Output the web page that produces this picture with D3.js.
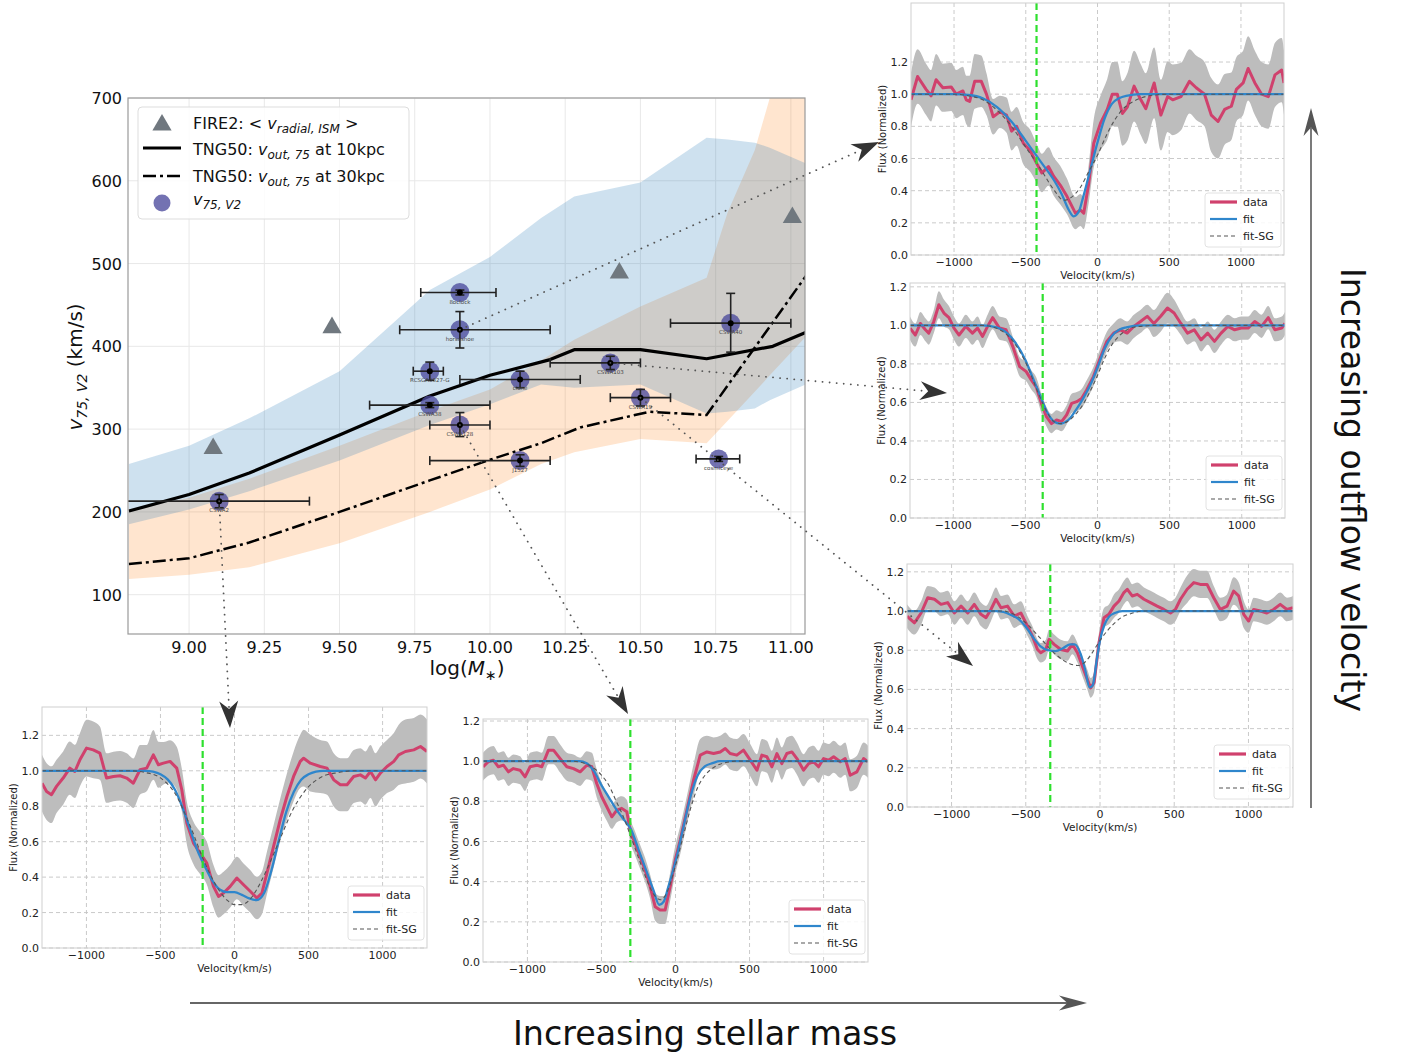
<!DOCTYPE html>
<html><head><meta charset="utf-8">
<script src="https://cdn.jsdelivr.net/npm/d3@7"></script>
<style>body{margin:0;background:#fff;} svg{display:block;font-family:"DejaVu Sans",sans-serif;}</style>
</head><body><svg id="c" width="1402" height="1057"></svg>
<script>
// ---------------- main plot data ----------------
const massTicks = [9.0, 9.25, 9.5, 9.75, 10.0, 10.25, 10.5, 10.75, 11.0];
const vTicks = [100, 200, 300, 400, 500, 600, 700];

const bandX      = [8.8, 9.0, 9.2, 9.5, 9.8, 10.0, 10.17, 10.28, 10.5, 10.72, 10.79, 10.88, 10.93, 11.05];
const blueUpper  = [258, 280, 313, 370, 468, 508, 555, 581, 598, 652, 650, 646, 640, 621];
const blueLower  = [185, 203, 225, 262, 305, 330, 354, 350, 354, 319, 321, 325, 335, 354];
const orangeUpper= [203, 217, 240, 280, 322, 348, 383, 408, 448, 483, 562, 637, 700, 790];
const orangeLower= [119, 124, 133, 162, 200, 227, 258, 272, 288, 283, 310, 345, 365, 412];

const tng10X = [8.8, 9.0, 9.2, 9.5, 9.8, 10.0, 10.2, 10.28, 10.5, 10.72, 10.94, 11.05];
const tng10Y = [201, 221, 247, 293, 340, 365, 384, 396, 396, 385, 400, 417];
const tng30X = [8.8, 9.0, 9.2, 9.5, 9.8, 10.0, 10.17, 10.3, 10.53, 10.72, 11.05];
const tng30Y = [137, 144, 163, 200, 238, 263, 283, 302, 321, 317, 485];

const fireX = [9.08, 9.475, 10.43, 11.005];
const fireY = [279, 425, 491, 558];

const galNames = ['CSWA2','8oclock','horseshoe','RCSGA0327-G','CSWA38','CSWA128','clone','J1527','CSWA103','CSWA19','CSWA40','cosmiceye'];
const galMass  = [9.1, 9.9, 9.9, 9.8, 9.8, 9.9, 10.1, 10.1, 10.4, 10.5, 10.8, 10.76];
const galV     = [213, 465, 420, 370, 329, 305, 360, 262, 380, 338, 428, 264];
const galMassLo= [8.7, 9.77, 9.7, 9.745, 9.6, 9.8, 9.9, 9.8, 10.2, 10.4, 10.6, 10.685];
const galMassHi= [9.4, 10.02, 10.2, 9.845, 10.0, 10.0, 10.3, 10.2, 10.5, 10.6, 11.0, 10.83];
const galVLo   = [205, 462, 398, 359, 326, 291, 350, 255, 372, 328, 393, 261];
const galVHi   = [221, 468, 442, 381, 332, 320, 370, 269, 388, 348, 464, 267];

// ---------------- spectra data ----------------
const panelVelTicks = [-1000, -500, 0, 500, 1000];
const panelFluxTicks = [0, 0.2, 0.4, 0.6, 0.8, 1.0, 1.2];

// horseshoe
const velA = [-1300,-1254,-1195,-1160,-1125,-1078,-1020,-985,-938,-915,-891,-856,-810,-774,-727,-681,-634,-599,-564,-517,-470,-424,-388,-342,-306,-260,-213,-154,-119,-96,-61,-26,21,68,103,138,173,208,255,302,337,395,442,489,524,582,641,688,746,793,840,886,933,968,1015,1050,1097,1144,1191,1237,1284,1300];
const fluxA = [0.965,1.11,1.03,0.99,1.09,1.04,1.045,1.0,1.02,0.965,0.955,1.08,1.08,1.0,0.86,0.89,0.87,0.77,0.80,0.695,0.65,0.57,0.51,0.55,0.49,0.435,0.365,0.26,0.28,0.26,0.445,0.695,0.82,0.905,1.0,1.0,0.88,0.92,1.05,0.965,0.91,1.07,0.87,0.985,0.965,0.985,1.08,1.04,1.0,0.87,0.83,0.905,0.925,1.03,1.07,1.16,1.07,1.0,0.985,1.12,1.15,1.07];
const errA = [0.17,0.17,0.16,0.16,0.16,0.15,0.15,0.15,0.15,0.15,0.16,0.17,0.16,0.13,0.11,0.10,0.11,0.12,0.12,0.13,0.13,0.12,0.12,0.12,0.12,0.12,0.11,0.10,0.10,0.10,0.12,0.15,0.17,0.19,0.20,0.20,0.20,0.21,0.22,0.22,0.22,0.22,0.22,0.22,0.22,0.21,0.20,0.20,0.20,0.23,0.23,0.22,0.21,0.20,0.20,0.20,0.20,0.20,0.20,0.20,0.20,0.20];
const fitVA = [-1300,-1000,-900,-800,-700,-600,-500,-400,-300,-250,-200,-166,-130,-100,-50,0,50,100,150,200,300,400,1300];
const fitFA = [1.0,1.0,0.995,0.975,0.92,0.83,0.71,0.585,0.46,0.38,0.28,0.24,0.27,0.36,0.53,0.70,0.85,0.94,0.975,0.99,1.0,1.0,1.0];
const sgVA = [-1300,-1000,-900,-800,-700,-600,-500,-400,-300,-236,-180,-120,-60,0,60,120,180,240,300,400,500,1300];
const sgFA = [1.0,1.0,0.99,0.965,0.9,0.8,0.67,0.54,0.40,0.34,0.36,0.42,0.52,0.62,0.74,0.84,0.91,0.95,0.975,0.995,1.0,1.0];

// CSWA103
const velB = [-1300,-1263,-1228,-1193,-1170,-1135,-1100,-1065,-1030,-995,-960,-913,-867,-832,-797,-762,-727,-680,-634,-587,-540,-494,-459,-424,-389,-354,-319,-284,-249,-214,-179,-144,-110,-75,-28,19,65,112,158,205,252,298,345,391,438,485,531,578,624,671,718,764,811,857,904,951,997,1044,1090,1137,1184,1230,1277,1300];
const fluxB = [0.986,0.95,1.01,0.977,0.96,1.02,1.107,1.064,1.04,0.986,0.95,0.995,0.96,0.986,0.943,0.995,1.04,0.986,0.977,0.89,0.786,0.76,0.717,0.68,0.595,0.526,0.49,0.509,0.50,0.535,0.595,0.604,0.62,0.665,0.734,0.83,0.917,0.96,0.977,0.96,0.995,1.02,1.047,1.01,1.047,1.09,1.064,1.01,0.96,0.977,0.925,0.96,0.917,0.96,0.995,0.977,0.986,0.986,1.02,0.995,1.04,0.977,0.986,1.01];
const errB = [0.06,0.06,0.06,0.06,0.06,0.06,0.07,0.07,0.06,0.06,0.06,0.06,0.06,0.06,0.06,0.06,0.06,0.06,0.06,0.05,0.05,0.05,0.05,0.05,0.05,0.05,0.05,0.05,0.05,0.05,0.05,0.05,0.05,0.05,0.05,0.05,0.05,0.05,0.06,0.06,0.06,0.06,0.06,0.07,0.08,0.08,0.07,0.06,0.06,0.06,0.06,0.06,0.06,0.06,0.06,0.06,0.06,0.06,0.06,0.06,0.06,0.06,0.06,0.06];
const fitVB = [-1300,-800,-700,-600,-500,-450,-400,-350,-300,-260,-200,-150,-100,-50,0,50,100,150,200,300,1300];
const fitFB = [1.0,1.0,0.99,0.94,0.82,0.73,0.64,0.55,0.50,0.49,0.51,0.56,0.62,0.69,0.78,0.88,0.945,0.977,0.99,1.0,1.0];
const sgVB = [-1300,-800,-700,-600,-500,-400,-350,-300,-250,-200,-150,-100,-50,0,50,100,150,200,250,300,400,1300];
const sgFB = [1.0,1.0,0.985,0.93,0.81,0.63,0.55,0.50,0.49,0.505,0.54,0.59,0.66,0.74,0.83,0.9,0.945,0.975,0.99,0.995,1.0,1.0];

// CSWA19
const velC = [-1300,-1250,-1205,-1160,-1115,-1071,-1026,-981,-936,-891,-847,-802,-768,-735,-701,-667,-623,-578,-533,-488,-455,-421,-399,-365,-343,-309,-264,-219,-186,-152,-119,-85,-63,-40,-7,27,60,94,128,161,184,217,251,296,340,385,430,475,508,542,587,632,676,721,766,811,856,900,934,968,1001,1035,1080,1124,1169,1214,1259,1300];
const fluxC = [0.974,0.94,0.99,1.068,1.06,1.034,1.043,0.99,1.025,0.99,1.034,0.983,0.966,1.008,1.06,1.017,1.025,0.974,0.99,0.923,0.872,0.804,0.787,0.804,0.855,0.83,0.804,0.796,0.83,0.787,0.719,0.65,0.608,0.634,0.838,0.966,0.983,1.025,1.051,1.094,1.111,1.077,1.085,1.06,1.043,1.025,1.008,0.99,1.008,1.06,1.111,1.145,1.136,1.136,1.068,1.008,1.025,1.102,1.077,0.983,0.949,1.008,1.0,0.99,1.008,1.034,1.008,1.017];
const errC = [0.06,0.06,0.06,0.06,0.06,0.06,0.06,0.06,0.06,0.06,0.06,0.06,0.06,0.06,0.06,0.06,0.06,0.06,0.06,0.05,0.05,0.05,0.05,0.05,0.05,0.05,0.05,0.05,0.05,0.05,0.05,0.05,0.05,0.05,0.05,0.05,0.05,0.06,0.06,0.06,0.06,0.06,0.06,0.06,0.06,0.06,0.06,0.06,0.06,0.06,0.07,0.07,0.07,0.07,0.06,0.06,0.06,0.07,0.07,0.07,0.06,0.06,0.06,0.06,0.06,0.06,0.06,0.06];
const fitVC = [-1300,-700,-650,-600,-550,-500,-450,-400,-350,-300,-250,-200,-170,-130,-100,-70,-50,-20,0,30,60,100,150,1300];
const fitFC = [1.0,1.0,0.995,0.98,0.96,0.92,0.865,0.82,0.80,0.795,0.81,0.83,0.83,0.78,0.70,0.61,0.62,0.76,0.85,0.93,0.97,0.99,1.0,1.0];
const sgVC = [-1300,-650,-600,-500,-400,-300,-200,-150,-100,-50,0,50,100,150,200,300,1300];
const sgFC = [1.0,1.0,0.99,0.94,0.86,0.78,0.73,0.722,0.74,0.79,0.85,0.90,0.94,0.97,0.985,1.0,1.0];

// CSWA2
const velD = [-1300,-1269,-1236,-1202,-1157,-1112,-1078,-1044,-999,-954,-909,-864,-818,-773,-728,-683,-638,-593,-548,-514,-480,-435,-390,-356,-322,-277,-232,-187,-142,-108,-74,-29,16,61,106,151,185,219,264,309,354,399,444,467,512,579,625,670,715,760,805,850,884,918,952,985,1030,1076,1109,1154,1211,1256,1300];
const fluxD = [0.93,0.883,0.865,0.912,0.959,1.015,0.996,1.062,1.128,1.118,1.1,0.959,0.968,0.972,0.959,0.93,1.006,1.015,1.09,1.034,1.043,1.053,1.015,0.893,0.705,0.592,0.536,0.479,0.348,0.291,0.31,0.348,0.395,0.357,0.32,0.282,0.31,0.423,0.573,0.724,0.855,0.968,1.053,1.071,1.043,1.024,1.015,0.949,0.921,0.921,0.968,0.977,0.959,0.996,0.949,0.987,1.024,1.053,1.09,1.109,1.118,1.137,1.109];
const errD = [0.16,0.16,0.16,0.15,0.15,0.15,0.15,0.15,0.16,0.16,0.15,0.14,0.14,0.14,0.14,0.14,0.14,0.13,0.14,0.13,0.12,0.12,0.12,0.12,0.12,0.12,0.12,0.12,0.12,0.12,0.12,0.12,0.12,0.12,0.12,0.12,0.12,0.12,0.12,0.12,0.13,0.14,0.15,0.16,0.16,0.15,0.15,0.15,0.15,0.15,0.15,0.15,0.15,0.15,0.15,0.15,0.15,0.16,0.17,0.18,0.18,0.18,0.18];
const fitVD = [-1300,-600,-550,-500,-450,-400,-350,-300,-250,-200,-150,-100,-50,0,50,100,150,200,250,300,350,400,450,500,550,600,1300];
const fitFD = [1.0,1.0,0.995,0.98,0.95,0.89,0.79,0.67,0.55,0.46,0.38,0.33,0.315,0.315,0.30,0.28,0.27,0.31,0.44,0.61,0.77,0.88,0.95,0.98,0.995,1.0,1.0];
const sgVD = [-1300,-700,-600,-500,-400,-300,-200,-100,-50,0,50,100,150,200,300,400,500,600,700,800,1300];
const sgFD = [1.0,1.0,0.99,0.96,0.87,0.69,0.48,0.32,0.27,0.245,0.245,0.27,0.33,0.41,0.60,0.79,0.91,0.97,0.99,1.0,1.0];

// CSWA128
const velE = [-1300,-1264,-1230,-1196,-1162,-1128,-1095,-1050,-1016,-982,-937,-903,-858,-824,-779,-734,-689,-644,-599,-565,-532,-498,-464,-430,-396,-363,-329,-306,-273,-239,-205,-171,-137,-104,-70,-36,-2,32,77,122,167,212,257,302,336,369,414,459,505,550,583,617,651,685,718,752,786,820,865,899,932,966,1000,1034,1068,1113,1146,1180,1225,1270,1300];
const fluxE = [0.972,0.997,1.005,0.972,0.98,0.947,0.963,0.955,0.922,0.972,0.98,0.972,1.055,1.055,1.013,0.972,0.963,0.947,0.98,0.972,0.889,0.823,0.773,0.723,0.756,0.765,0.748,0.657,0.59,0.524,0.458,0.375,0.275,0.259,0.259,0.375,0.507,0.607,0.756,0.905,1.03,1.046,1.038,1.046,1.063,1.038,1.03,1.055,1.005,0.955,1.03,1.022,0.972,1.038,0.988,1.038,1.046,1.013,0.955,0.988,0.997,0.972,1.013,1.005,1.022,0.997,1.013,0.93,0.947,1.013,0.997];
const errE = [0.07,0.07,0.07,0.07,0.07,0.07,0.07,0.07,0.07,0.07,0.07,0.07,0.07,0.07,0.07,0.07,0.07,0.07,0.07,0.07,0.07,0.07,0.07,0.06,0.06,0.06,0.06,0.06,0.06,0.06,0.06,0.06,0.07,0.07,0.07,0.07,0.07,0.07,0.07,0.08,0.08,0.08,0.08,0.08,0.08,0.08,0.08,0.08,0.08,0.08,0.08,0.08,0.08,0.08,0.08,0.08,0.08,0.08,0.08,0.08,0.08,0.08,0.08,0.08,0.08,0.08,0.08,0.08,0.08,0.08,0.08];
const fitVE = [-1300,-650,-600,-550,-500,-450,-400,-350,-300,-250,-200,-150,-110,-80,-50,0,50,100,150,200,250,300,1300];
const fitFE = [1.0,1.0,0.99,0.95,0.88,0.82,0.76,0.71,0.66,0.56,0.46,0.36,0.285,0.30,0.37,0.50,0.66,0.82,0.93,0.975,0.99,1.0,1.0];
const sgVE = [-1300,-700,-600,-500,-450,-400,-350,-300,-250,-200,-150,-100,-50,0,50,100,150,200,250,300,350,400,1300];
const sgFE = [1.0,1.0,0.985,0.93,0.88,0.80,0.72,0.62,0.52,0.42,0.34,0.31,0.36,0.48,0.62,0.76,0.87,0.93,0.965,0.985,0.995,1.0,1.0];

const panelGal = ['horseshoe','CSWA103','CSWA19','CSWA2','CSWA128'];
const greenVel = [-425, -380, -335, -215, -305];

// ---------------- drawing ----------------
const svg = d3.select('#c');
const defs = svg.append('defs');

const ML = 128, MT = 98, MR = 805, MB = 634;
const xM = d3.scaleLinear().domain([8.797, 11.047]).range([ML, MR]);
const yM = d3.scaleLinear().domain([52.5, 700]).range([MB, MT]);

defs.append('clipPath').attr('id','mainclip').append('rect')
  .attr('x',ML).attr('y',MT).attr('width',MR-ML).attr('height',MB-MT);

const gM = svg.append('g');
massTicks.forEach(t => gM.append('line').attr('x1',xM(t)).attr('x2',xM(t)).attr('y1',MT).attr('y2',MB)
  .attr('stroke','#e8e8e8').attr('stroke-width',1));
vTicks.forEach(t => gM.append('line').attr('y1',yM(t)).attr('y2',yM(t)).attr('x1',ML).attr('x2',MR)
  .attr('stroke','#e8e8e8').attr('stroke-width',1));

const gC = gM.append('g').attr('clip-path','url(#mainclip)');
const bandArea = d3.area().x(d=>xM(d[0])).y0(d=>yM(d[1])).y1(d=>yM(d[2]));
gC.append('path').attr('d', bandArea(bandX.map((x,i)=>[x, orangeLower[i], orangeUpper[i]])))
  .attr('fill','#ff7f0e').attr('fill-opacity',0.2);
gC.append('path').attr('d', bandArea(bandX.map((x,i)=>[x, blueLower[i], blueUpper[i]])))
  .attr('fill','#1f77b4').attr('fill-opacity',0.22);

const lineM = d3.line().x(d=>xM(d[0])).y(d=>yM(d[1]));
gC.append('path').attr('d', lineM(tng10X.map((x,i)=>[x,tng10Y[i]])))
  .attr('fill','none').attr('stroke','#000').attr('stroke-width',3.2).attr('stroke-linejoin','round');
gC.append('path').attr('d', lineM(tng30X.map((x,i)=>[x,tng30Y[i]])))
  .attr('fill','none').attr('stroke','#000').attr('stroke-width',2.5).attr('stroke-dasharray','13,4,3,4');

const tri = d3.symbol().type(d3.symbolTriangle).size(160);
fireX.forEach((x,i)=>{
  gC.append('path').attr('d',tri()).attr('transform',`translate(${xM(x)},${yM(fireY[i])+2})`).attr('fill','#70787f');
});

// galaxies
galNames.forEach((n,i)=>{
  const cx = xM(galMass[i]), cy = yM(galV[i]);
  gC.append('circle').attr('cx',cx).attr('cy',cy).attr('r',9.5).attr('fill','#4b4a9c').attr('fill-opacity',0.78);
});
galNames.forEach((n,i)=>{
  const cx = xM(galMass[i]), cy = yM(galV[i]);
  const s = '#222', w = 1.6, cap = 4.5;
  const x0 = xM(galMassLo[i]), x1 = xM(galMassHi[i]);
  gC.append('line').attr('x1',x0).attr('x2',x1).attr('y1',cy).attr('y2',cy).attr('stroke',s).attr('stroke-width',w);
  [x0,x1].forEach(xx=>gC.append('line').attr('x1',xx).attr('x2',xx).attr('y1',cy-cap).attr('y2',cy+cap).attr('stroke',s).attr('stroke-width',w));
  const y0 = yM(galVLo[i]), y1 = yM(galVHi[i]);
  gC.append('line').attr('x1',cx).attr('x2',cx).attr('y1',y0).attr('y2',y1).attr('stroke',s).attr('stroke-width',w);
  [y0,y1].forEach(yy=>gC.append('line').attr('x1',cx-cap).attr('x2',cx+cap).attr('y1',yy).attr('y2',yy).attr('stroke',s).attr('stroke-width',w));
  gC.append('circle').attr('cx',cx).attr('cy',cy).attr('r',3).attr('fill','#000');
  gC.append('text').attr('x',cx).attr('y',cy+11).attr('text-anchor','middle').attr('font-size',5.5)
    .attr('fill','#444').text(n);
});

// frame + tick labels
gM.append('rect').attr('x',ML).attr('y',MT).attr('width',MR-ML).attr('height',MB-MT)
  .attr('fill','none').attr('stroke','#9a9a9a').attr('stroke-width',1.2);
massTicks.forEach(t => gM.append('text').attr('x',xM(t)).attr('y',653).attr('text-anchor','middle')
  .attr('font-size',16).attr('fill','#111').text(d3.format('.2f')(t)));
vTicks.forEach(t => gM.append('text').attr('x',122).attr('y',yM(t)+6).attr('text-anchor','end')
  .attr('font-size',16).attr('fill','#111').text(t));

// axis labels
const xl = gM.append('text').attr('x',467).attr('y',675).attr('text-anchor','middle').attr('font-size',20).attr('fill','#111');
xl.append('tspan').text('log(');
xl.append('tspan').attr('font-style','italic').text('M');
xl.append('tspan').attr('font-size',14).attr('dy',5).text('∗');
xl.append('tspan').attr('dy',-5).text(')');

const yl = gM.append('text').attr('transform','translate(82,367) rotate(-90)').attr('text-anchor','middle').attr('font-size',20).attr('fill','#111');
yl.append('tspan').attr('font-style','italic').text('v');
yl.append('tspan').attr('font-style','italic').attr('font-size',14).attr('dy',5).text('75, V2');
yl.append('tspan').attr('dy',-5).text(' (km/s)');

// legend
const lg = gM.append('g');
lg.append('rect').attr('x',138).attr('y',107).attr('width',271).attr('height',112).attr('rx',4)
  .attr('fill','#fff').attr('fill-opacity',0.85).attr('stroke','#dddddd');
lg.append('path').attr('d',tri()).attr('transform','translate(162,125)').attr('fill','#70787f');
lg.append('line').attr('x1',143).attr('x2',181).attr('y1',148).attr('y2',148).attr('stroke','#000').attr('stroke-width',3.2);
lg.append('line').attr('x1',143).attr('x2',181).attr('y1',176).attr('y2',176).attr('stroke','#000').attr('stroke-width',2.5).attr('stroke-dasharray','13,4,3,4');
lg.append('circle').attr('cx',162).attr('cy',203).attr('r',8.5).attr('fill','#4b4a9c').attr('fill-opacity',0.78);
function legText(y, parts){
  const t = lg.append('text').attr('x',193).attr('y',y).attr('font-size',16).attr('fill','#111');
  parts.forEach(p=>{
    const s = t.append('tspan').text(p.t);
    if(p.i) s.attr('font-style','italic');
    if(p.sub) s.attr('font-size',12).attr('dy',4);
    if(p.up) s.attr('dy',-4);
  });
}
legText(129, [{t:'FIRE2:  < '},{t:'v',i:1},{t:'radial, ISM',i:1,sub:1},{t:' >',up:1}]);
legText(155, [{t:'TNG50: '},{t:'v',i:1},{t:'out, 75',i:1,sub:1},{t:' at 10kpc',up:1}]);
legText(182, [{t:'TNG50: '},{t:'v',i:1},{t:'out, 75',i:1,sub:1},{t:' at 30kpc',up:1}]);
legText(205, [{t:'v',i:1},{t:'75, V2',i:1,sub:1}]);

// ---------------- spectra panels ----------------
const spectra = {
  horseshoe: {vel:velA, flux:fluxA, err:errA, fv:fitVA, ff:fitFA, sv:sgVA, sf:sgFA},
  CSWA103:   {vel:velB, flux:fluxB, err:errB, fv:fitVB, ff:fitFB, sv:sgVB, sf:sgFB},
  CSWA19:    {vel:velC, flux:fluxC, err:errC, fv:fitVC, ff:fitFC, sv:sgVC, sf:sgFC},
  CSWA2:     {vel:velD, flux:fluxD, err:errD, fv:fitVD, ff:fitFD, sv:sgVD, sf:sgFD},
  CSWA128:   {vel:velE, flux:fluxE, err:errE, fv:fitVE, ff:fitFE, sv:sgVE, sf:sgFE}
};
const layout = {
  horseshoe: {l:911, t:3,   r:1284, b:255, ymax:1.567, tip:[879,142]},
  CSWA103:   {l:910, t:283, r:1285, b:518, ymax:1.22,  tip:[947,393]},
  CSWA19:    {l:907, t:564, r:1293, b:807, ymax:1.24,  tip:[973,666]},
  CSWA2:     {l:42,  t:707, r:427,  b:948, ymax:1.36,  tip:[230,728]},
  CSWA128:   {l:483, t:719, r:868,  b:962, ymax:1.21,  tip:[628,714]}
};

function drawPanel(name, greenV){
  const L = layout[name], sp = spectra[name];
  const x = d3.scaleLinear().domain([-1300,1300]).range([L.l, L.r]);
  const y = d3.scaleLinear().domain([0, L.ymax]).range([L.b, L.t]);
  const g = svg.append('g');
  g.append('rect').attr('x',L.l).attr('y',L.t).attr('width',L.r-L.l).attr('height',L.b-L.t).attr('fill','#fff');
  const cid = 'clip_'+name;
  defs.append('clipPath').attr('id',cid).append('rect').attr('x',L.l).attr('y',L.t).attr('width',L.r-L.l).attr('height',L.b-L.t);
  panelVelTicks.forEach(v=>g.append('line').attr('x1',x(v)).attr('x2',x(v)).attr('y1',L.t).attr('y2',L.b)
    .attr('stroke','#c4c4c4').attr('stroke-width',0.9).attr('stroke-dasharray','4,3'));
  panelFluxTicks.forEach(f=>g.append('line').attr('y1',y(f)).attr('y2',y(f)).attr('x1',L.l).attr('x2',L.r)
    .attr('stroke','#c4c4c4').attr('stroke-width',0.9).attr('stroke-dasharray','4,3'));
  const pg = g.append('g').attr('clip-path',`url(#${cid})`);
  const pts = sp.vel.map((v,i)=>[v, sp.flux[i], sp.err[i]]);
  pg.append('path').attr('d', d3.area().x(d=>x(d[0])).y0(d=>y(d[1]-d[2])).y1(d=>y(d[1]+d[2])).curve(d3.curveMonotoneX)(pts))
    .attr('fill','#bdbdbd');
  pg.append('path').attr('d', d3.line().x(d=>x(d[0])).y(d=>y(d[1]))(pts))
    .attr('fill','none').attr('stroke','#d0416d').attr('stroke-width',3).attr('stroke-linejoin','round');
  const sm = d3.line().x(d=>x(d[0])).y(d=>y(d[1])).curve(d3.curveMonotoneX);
  pg.append('path').attr('d', sm(sp.fv.map((v,i)=>[v, sp.ff[i]])))
    .attr('fill','none').attr('stroke','#2f86cc').attr('stroke-width',2.3);
  pg.append('path').attr('d', sm(sp.sv.map((v,i)=>[v, sp.sf[i]])))
    .attr('fill','none').attr('stroke','#555').attr('stroke-width',1.1).attr('stroke-dasharray','4,3');
  pg.append('line').attr('x1',x(greenV)).attr('x2',x(greenV)).attr('y1',L.t).attr('y2',L.b)
    .attr('stroke','#2ee02e').attr('stroke-width',2.2).attr('stroke-dasharray','7,4');
  g.append('rect').attr('x',L.l).attr('y',L.t).attr('width',L.r-L.l).attr('height',L.b-L.t)
    .attr('fill','none').attr('stroke','#cfcfcf').attr('stroke-width',1);
  panelVelTicks.forEach(v=>g.append('text').attr('x',x(v)).attr('y',L.b+11).attr('text-anchor','middle')
    .attr('font-size',11).attr('fill','#222').text(d3.format('d')(v)));
  panelFluxTicks.forEach(f=>g.append('text').attr('x',L.l-3).attr('y',y(f)+4).attr('text-anchor','end')
    .attr('font-size',11).attr('fill','#222').text(d3.format('.1f')(f)));
  g.append('text').attr('x',(L.l+L.r)/2).attr('y',L.b+23.5).attr('text-anchor','middle').attr('font-size',10.5)
    .attr('fill','#222').text('Velocity(km/s)');
  g.append('text').attr('transform',`translate(${L.l-25},${(L.t+L.b)/2}) rotate(-90)`).attr('text-anchor','middle')
    .attr('font-size',10).attr('fill','#222').text('Flux (Normalized)');
  // legend
  const lgp = g.append('g');
  lgp.append('rect').attr('x',L.r-79).attr('y',L.b-62).attr('width',76).attr('height',54).attr('rx',3)
    .attr('fill','#fff').attr('fill-opacity',0.85).attr('stroke','#e2e2e2');
  const rows = [{t:'data',c:'#d0416d',w:3.2,d:null},{t:'fit',c:'#2f86cc',w:2.2,d:null},{t:'fit-SG',c:'#555',w:1.1,d:'4,3'}];
  rows.forEach((r,i)=>{
    const yy = L.b-53+17*i;
    const ln = lgp.append('line').attr('x1',L.r-74).attr('x2',L.r-47).attr('y1',yy).attr('y2',yy)
      .attr('stroke',r.c).attr('stroke-width',r.w);
    if(r.d) ln.attr('stroke-dasharray',r.d);
    lgp.append('text').attr('x',L.r-41).attr('y',yy+4).attr('font-size',11).attr('fill','#222').text(r.t);
  });
}
panelGal.forEach((n,i)=>drawPanel(n, greenVel[i]));

// ---------------- connectors ----------------
function arrowHead(g, tx, ty, ang, Lh, Wh, fill){
  const p = [[0,0],[-Lh,-Wh/2],[-Lh*0.7,0],[-Lh,Wh/2]];
  g.append('path').attr('d','M'+p.map(q=>q.join(',')).join('L')+'Z')
    .attr('transform',`translate(${tx},${ty}) rotate(${ang*180/Math.PI})`).attr('fill',fill);
}
const gA = svg.append('g');
panelGal.forEach(n=>{
  const i = galNames.indexOf(n);
  const sx = xM(galMass[i]), sy = yM(galV[i]);
  const [tx,ty] = layout[n].tip;
  const ang = Math.atan2(ty-sy, tx-sx);
  const Lh = 27;
  const ex = tx - Math.cos(ang)*Lh*0.75, ey = ty - Math.sin(ang)*Lh*0.75;
  gA.append('line').attr('x1',sx).attr('y1',sy).attr('x2',ex).attr('y2',ey)
    .attr('stroke','#555').attr('stroke-width',1.8).attr('stroke-dasharray','0.1,7').attr('stroke-linecap','round');
  arrowHead(gA, tx, ty, ang, Lh, 19, '#333');
});

// big arrows + captions
gA.append('line').attr('x1',190).attr('x2',1068).attr('y1',1003).attr('y2',1003).attr('stroke','#333').attr('stroke-width',1.3);
arrowHead(gA, 1087, 1003, 0, 28, 15, '#555');
gA.append('line').attr('x1',1311).attr('x2',1311).attr('y1',808).attr('y2',128).attr('stroke','#333').attr('stroke-width',1.3);
arrowHead(gA, 1311, 108, -Math.PI/2, 28, 15, '#555');

gA.append('text').attr('x',513).attr('y',1045).attr('font-size',33).attr('fill','#111')
  .attr('textLength',384).attr('lengthAdjust','spacingAndGlyphs').text('Increasing stellar mass');
gA.append('text').attr('transform','translate(1341,268) rotate(90)').attr('font-size',33).attr('fill','#111')
  .attr('textLength',444).attr('lengthAdjust','spacingAndGlyphs').text('Increasing outflow velocity');
</script></body></html>
